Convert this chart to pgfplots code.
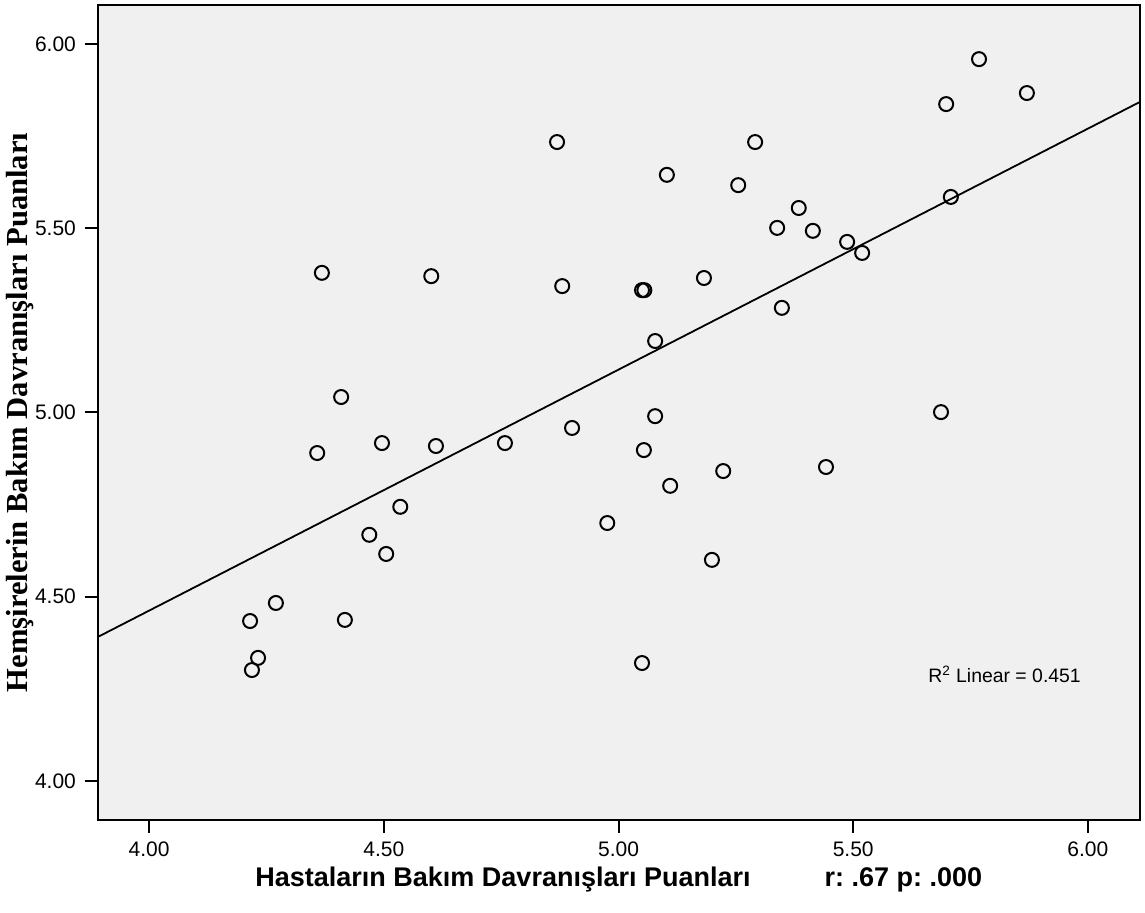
\documentclass[border=0pt]{standalone}
\usepackage{fontspec}
\setmainfont{Liberation Sans}
\newfontfamily\timesfont{Liberation Serif}
\usepackage{pgfplots}
\pgfplotsset{compat=1.18}
\definecolor{plotbg}{HTML}{F0F0F0}
\frenchspacing

\begin{document}
\begin{tikzpicture}
\begin{axis}[
  scale only axis,
  width=521pt, height=407.5pt,
  xmin=3.891, xmax=6.111,
  ymin=3.894, ymax=6.106,
  xtick={4,4.5,5,5.5,6},
  ytick={4,4.5,5,5.5,6},
  xtick pos=bottom, ytick pos=left,
  tick align=outside,
  major tick length=6.5pt,
  every tick/.style={black, line width=1pt},
  axis line style={line width=1pt},
  axis background/.style={fill=plotbg},
  /pgf/number format/assume math mode=true,
  /pgf/number format/.cd, fixed, fixed zerofill, precision=2,
  /pgfplots/.cd,
  tick label style={font=\fontsize{10.5}{12}\selectfont},
  yticklabel style={xshift=-1pt},
  xticklabel style={yshift=-1pt},
  xlabel={\frenchspacing Hastaların Bakım Davranışları Puanları\hspace{37pt}r: .67 p: .000},
  xlabel style={at={(axis description cs:0.1507,-0.081)}, anchor=base west,
    font=\bfseries\fontsize{13.5}{16}\selectfont, inner sep=0pt},
  ylabel={Hemşirelerin Bakım Davranışları Puanları},
  ylabel style={at={(axis description cs:-0.075,0.5)}, anchor=center, rotate=0,
    font=\timesfont\bfseries\fontsize{15.3}{18}\selectfont, inner sep=0pt},
  clip=true,
]
\addplot[only marks, mark=o, mark size=3.5pt, mark options={line width=1pt, draw=black, fill=none}]
coordinates {
(5.768,5.959) (5.698,5.837) (5.870,5.867) (4.869,5.734) (5.291,5.734)
(5.103,5.645) (5.255,5.617) (5.384,5.555) (5.708,5.585) (5.338,5.501)
(5.414,5.493) (5.487,5.463) (5.519,5.433) (4.368,5.379) (4.601,5.370)
(4.880,5.343) (5.050,5.332) (5.055,5.332) (5.182,5.365) (5.348,5.284)
(5.078,5.194) (4.409,5.042) (5.687,5.001) (5.078,4.990) (4.901,4.958)
(4.496,4.917) (4.758,4.917) (4.611,4.909) (4.358,4.890) (5.054,4.898)
(5.223,4.841) (5.442,4.852) (5.110,4.801) (4.535,4.744) (4.976,4.700)
(4.469,4.668) (4.505,4.616) (5.199,4.600) (4.270,4.483) (4.215,4.434)
(4.417,4.437) (4.232,4.334) (4.219,4.301) (5.050,4.320)
};
\addplot[black, line width=0.9pt] coordinates {(3.891,4.391) (6.111,5.843)};
\node[anchor=base west, font=\fontsize{9.7}{11}\selectfont, inner sep=0pt]
  at (axis cs:5.659,4.266) {R\textsuperscript{2} Linear = 0.451};
\end{axis}
\pgfresetboundingbox
\useasboundingbox (-49pt,-46.5pt) rectangle (523.5pt,410pt);
\end{tikzpicture}
\end{document}
